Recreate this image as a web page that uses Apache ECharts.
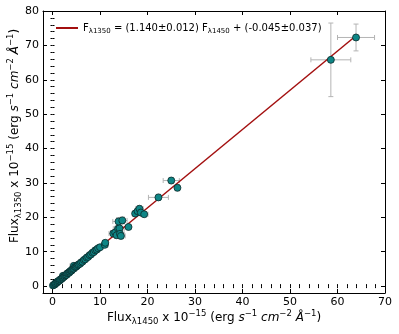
<!DOCTYPE html>
<html>
<head>
<meta charset="utf-8">
<script src="https://cdn.jsdelivr.net/npm/echarts@6/dist/echarts.min.js"></script>
<style>
  html, body { margin: 0; padding: 0; background: #fff; }
  #chart { width: 399px; height: 334px; }
</style>
</head>
<body>
<div id="chart"></div>
<script>
// measured fluxes (x = 1450, y = 1350) and their errors
const fluxX = [
  0.1, 0.3, 0.5, 0.6, 0.8, 1.0, 1.1, 1.3, 1.5, 1.6, 1.8, 2.0, 2.1, 2.2, 2.3, 2.5, 2.6, 2.8, 3.0, 3.1,
  3.3, 3.5, 3.6, 3.8, 4.0, 4.1, 4.3, 4.5, 4.5, 4.7, 4.9, 5.1, 5.3, 5.5, 5.8, 6.0, 6.3, 6.6, 6.9, 7.2,
  7.5, 7.8, 8.1, 8.4, 8.7, 9.0, 9.3, 9.6, 10.0, 11.0, 11.1,
  12.8, 13.2, 13.5, 13.8, 14.1, 14.2, 14.4, 13.9, 14.7, 16.0,
  17.4, 17.9, 18.3, 18.6, 19.3, 22.3, 25.0, 26.3, 58.6, 63.9
];
const fluxY = [
  0.2, 0.4, 0.5, 0.8, 0.9, 1.1, 1.4, 1.5, 1.6, 1.9, 2.0, 2.2, 2.5, 3.0, 2.6, 2.8, 3.1, 3.2, 3.3, 3.7,
  3.8, 3.9, 4.2, 4.4, 4.5, 4.8, 5.0, 5.1, 5.9, 5.5, 5.6, 5.8, 6.1, 6.3, 6.5, 6.9, 7.1, 7.6, 7.8, 8.3,
  8.5, 9.0, 9.2, 9.7, 9.9, 10.4, 10.6, 11.0, 11.3, 12.0, 12.6,
  15.3, 15.6, 14.8, 16.7, 16.8, 15.2, 14.6, 18.8, 19.1, 17.2,
  21.1, 21.8, 22.5, 21.4, 20.9, 25.8, 30.7, 28.6, 65.8, 72.3
];
const errX = [
  0.1, 0.1, 0.1, 0.1, 0.1, 0.1, 0.2, 0.1, 0.2, 0.1, 0.2, 0.2, 0.2, 0.5, 0.2, 0.2, 0.3, 0.2, 0.3, 0.2,
  0.3, 0.3, 0.2, 0.3, 0.3, 0.3, 0.3, 0.3, 0.8, 0.3, 0.3, 0.4, 0.3, 0.4, 0.4, 0.4, 0.4, 0.5, 0.4, 0.5,
  0.5, 0.5, 0.5, 0.5, 0.6, 0.6, 0.6, 0.6, 0.6, 0.7, 0.6,
  0.9, 1.0, 0.8, 1.0, 1.0, 0.9, 0.9, 1.2, 1.0, 0.5,
  0.6, 0.5, 0.8, 0.6, 0.8, 2.1, 1.7, 0.4, 4.2, 3.9
];
const errY = [
  0.1, 0.1, 0.1, 0.1, 0.1, 0.1, 0.2, 0.1, 0.2, 0.2, 0.2, 0.2, 0.2, 0.6, 0.2, 0.2, 0.3, 0.2, 0.3, 0.3,
  0.3, 0.3, 0.3, 0.3, 0.3, 0.3, 0.3, 0.3, 0.8, 0.4, 0.3, 0.4, 0.4, 0.4, 0.4, 0.4, 0.4, 0.5, 0.5, 0.5,
  0.5, 0.5, 0.5, 0.5, 0.6, 0.6, 0.6, 0.6, 0.6, 0.7, 0.6,
  0.8, 0.9, 0.9, 1.0, 1.0, 0.8, 0.9, 1.1, 1.0, 0.6,
  0.9, 0.8, 0.9, 0.8, 0.7, 0.9, 0.9, 0.9, 10.7, 3.9
];
// linear fit F1350 = a * F1450 + b
const fitSlope = 1.140;
const fitIntercept = -0.045;
const fitRangeX = [0.0, 63.9];

const xMajorTicks = [0, 10, 20, 30, 40, 50, 60, 70];
const yMajorTicks = [0, 10, 20, 30, 40, 50, 60, 70, 80];

const FONT = 'DejaVu Sans';
const richText = {
  n: { fontFamily: FONT, fontSize: 12, color: '#000', lineHeight: 17 },
  it: { fontFamily: FONT, fontSize: 12, color: '#000', fontStyle: 'italic', lineHeight: 17 },
  sub: { fontFamily: FONT, fontSize: 8.5, color: '#000', verticalAlign: 'bottom', lineHeight: 10 },
  sup: { fontFamily: FONT, fontSize: 8.5, color: '#000', verticalAlign: 'top', lineHeight: 10 }
};
const unitText = '{n|(erg }{it|s}{sup|−1}{n| }{it|cm}{sup|−2}{n| }{it|Å}{sup|−1}{n|)}';
const yName = '{n|Flux}{sub|λ1350}{n| x 10}{sup|−15}{n| }' + unitText;
const xName = '{n|Flux}{sub|λ1450}{n| x 10}{sup|−15}{n| }' + unitText;

const points = fluxX.map((x, i) => [x, fluxY[i], errX[i], errY[i]]);
const fitLine = fitRangeX.map(x => [x, fitSlope * x + fitIntercept]);

const gridBox = { left: 43, right: 14, top: 11, bottom: 41, outerBoundsMode: 'none', containLabel: false };

function majorAxis(pos, min, max, ticks, grid, labels) {
  return {
    type: 'value', gridIndex: grid, position: pos, min: min, max: max,
    axisLine: { show: true, onZero: false, lineStyle: { color: '#000', width: 1 } },
    axisTick: { show: true, inside: true, length: 4, customValues: ticks, lineStyle: { color: '#000' } },
    axisLabel: labels
      ? { show: true, customValues: ticks, color: '#000', fontFamily: FONT, fontSize: 11, margin: 4 }
      : { show: false },
    splitLine: { show: false }
  };
}
function minorAxis(pos, min, max, grid) {
  return {
    type: 'value', gridIndex: grid, position: pos, min: min, max: max, interval: 2,
    axisLine: { show: false },
    axisTick: { show: true, inside: true, length: 2, lineStyle: { color: '#000' } },
    axisLabel: { show: false },
    splitLine: { show: false }
  };
}

const xBottom = majorAxis('bottom', -2, 70, xMajorTicks, 0, true);
xBottom.name = xName;
xBottom.nameLocation = 'middle';
xBottom.nameGap = 16;
xBottom.nameMoveOverlap = false;
xBottom.nameTextStyle = { rich: richText };

const yLeft = majorAxis('left', -2, 80, yMajorTicks, 0, true);
yLeft.name = yName;
yLeft.nameLocation = 'middle';
yLeft.nameGap = 20;
yLeft.nameRotate = 90;
yLeft.nameMoveOverlap = false;
yLeft.nameTextStyle = { rich: richText, padding: [0, 0, 0, 32] };

const chart = echarts.init(document.getElementById('chart'), null, { renderer: 'canvas' });
chart.setOption({
  backgroundColor: '#fff',
  animation: false,
  grid: [Object.assign({}, gridBox), Object.assign({}, gridBox)],
  xAxis: [
    xBottom,
    majorAxis('top', -2, 70, xMajorTicks, 0, false),
    minorAxis('bottom', -2, 70, 1),
    minorAxis('top', -2, 70, 1)
  ],
  yAxis: [
    yLeft,
    majorAxis('right', -2, 80, yMajorTicks, 0, false),
    minorAxis('left', -2, 80, 1),
    minorAxis('right', -2, 80, 1)
  ],
  legend: {
    left: 51, top: 18,
    icon: 'rect',
    itemWidth: 22, itemHeight: 2,
    data: [{ name: 'fit' }],
    formatter: () => '{n|F}{sub|λ1350}{n| = (1.140±0.012) F}{sub|λ1450}{n| + (-0.045±0.037)}',
    textStyle: {
      rich: {
        n: { fontFamily: FONT, fontSize: 10, color: '#000', lineHeight: 14 },
        sub: { fontFamily: FONT, fontSize: 7, color: '#000', verticalAlign: 'bottom', lineHeight: 8 }
      }
    }
  },
  series: [
    {
      type: 'custom',
      name: 'errors',
      xAxisIndex: 0, yAxisIndex: 0,
      data: points,
      z: 1,
      renderItem: (params, api) => {
        const x = api.value(0), y = api.value(1), ex = api.value(2), ey = api.value(3);
        const l = api.coord([x - ex, y]);
        const r = api.coord([x + ex, y]);
        const t = api.coord([x, y + ey]);
        const b = api.coord([x, y - ey]);
        const cap = 2.5;
        const st = { stroke: '#b4b4b4', lineWidth: 1 };
        return {
          type: 'group',
          children: [
            { type: 'line', shape: { x1: l[0], y1: l[1], x2: r[0], y2: r[1] }, style: st },
            { type: 'line', shape: { x1: t[0], y1: t[1], x2: b[0], y2: b[1] }, style: st },
            { type: 'line', shape: { x1: l[0], y1: l[1] - cap, x2: l[0], y2: l[1] + cap }, style: st },
            { type: 'line', shape: { x1: r[0], y1: r[1] - cap, x2: r[0], y2: r[1] + cap }, style: st },
            { type: 'line', shape: { x1: t[0] - cap, y1: t[1], x2: t[0] + cap, y2: t[1] }, style: st },
            { type: 'line', shape: { x1: b[0] - cap, y1: b[1], x2: b[0] + cap, y2: b[1] }, style: st }
          ]
        };
      }
    },
    {
      type: 'line',
      name: 'fit',
      xAxisIndex: 0, yAxisIndex: 0,
      data: fitLine,
      symbol: 'none',
      z: 2,
      color: '#a30f0f',
      lineStyle: { color: '#a30f0f', width: 1.5 }
    },
    {
      type: 'scatter',
      name: 'data',
      xAxisIndex: 0, yAxisIndex: 0,
      data: points.map(p => [p[0], p[1]]),
      symbol: 'circle',
      symbolSize: 7,
      z: 3,
      itemStyle: { color: '#0e8686', borderColor: '#0a2a2a', borderWidth: 0.8, opacity: 1 }
    }
  ]
});
</script>
</body>
</html>
